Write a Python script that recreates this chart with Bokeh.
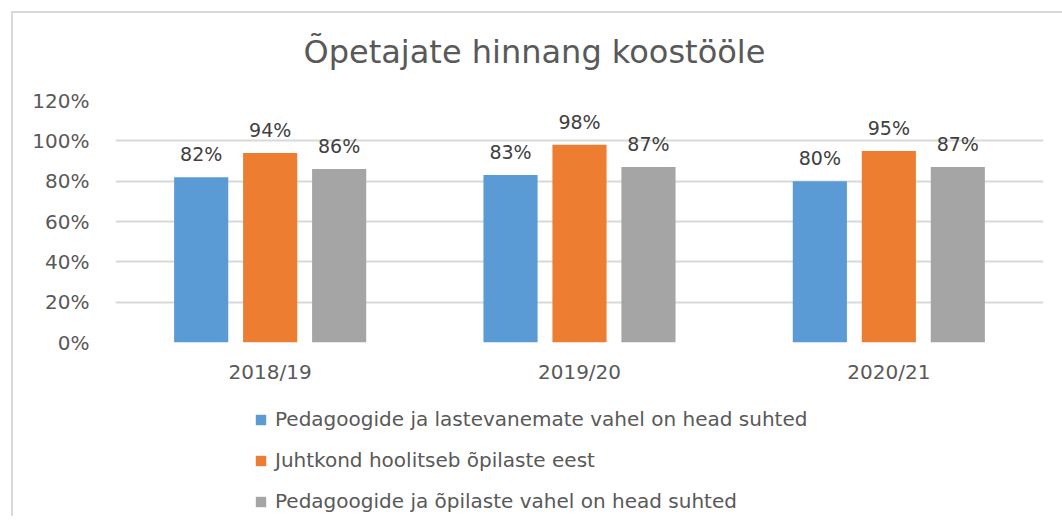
from bokeh.plotting import figure
from bokeh.layouts import column
from bokeh.models import (ColumnDataSource, FactorRange, LabelSet, Legend, LegendItem,
                          PrintfTickFormatter, FixedTicker, Title, Range1d)
from bokeh.core.properties import value
from bokeh.transform import dodge
from bokeh.embed import file_html
from bokeh.resources import INLINE

years = ["2018/19", "2019/20", "2020/21"]
series_names = [
    "Pedagoogide ja lastevanemate vahel on head suhted",
    "Juhtkond hoolitseb õpilaste eest",
    "Pedagoogide ja õpilaste vahel on head suhted",
]
vals_parents = [82, 83, 80]
vals_leadership = [94, 98, 95]
vals_students = [86, 87, 87]
colors = ["#5b9bd5", "#ed7d31", "#a5a5a5"]
y_ticks = [0, 20, 40, 60, 80, 100, 120]

FONT = "DejaVu Sans"
TXT = "#595959"
W = 1062

p = figure(x_range=FactorRange(*years, range_padding=0), y_range=(0, 120),
           width=W, height=390, output_backend="svg", toolbar_location=None,
           min_border_left=115, min_border_right=19, min_border_top=100,
           min_border_bottom=48, outline_line_color=None, border_fill_alpha=0,
           background_fill_alpha=0)
p.title = Title(text="Õpetajate hinnang koostööle", align="left", offset=188,
                text_font=FONT, text_font_size="32px", text_font_style="normal",
                text_color=TXT, standoff=59)

src = ColumnDataSource(dict(year=years, a=vals_parents, b=vals_leadership, c=vals_students,
                            la=[f"{v}%" for v in vals_parents],
                            lb=[f"{v}%" for v in vals_leadership],
                            lc=[f"{v}%" for v in vals_students]))

offsets = [-0.223, 0.0, 0.223]
cols = ["a", "b", "c"]
labs = ["la", "lb", "lc"]
for off, col, lab, color in zip(offsets, cols, labs, colors):
    p.vbar(x=dodge("year", off, range=p.x_range), top=col, width=0.175, source=src,
           fill_color=color, line_color=None)
    p.add_layout(LabelSet(x=dodge("year", off, range=p.x_range), y=col, text=lab, source=src,
                          text_align="center", text_baseline="alphabetic", y_offset=16,
                          text_font=value(FONT), text_font_size="19px", text_color="#404040"))

p.yaxis.ticker = FixedTicker(ticks=y_ticks)
p.yaxis.formatter = PrintfTickFormatter(format="%d%%")
for ax in (p.xaxis[0], p.yaxis[0]):
    ax.axis_line_color = None
    ax.major_tick_line_color = None
    ax.minor_tick_line_color = None
    ax.major_label_text_font = FONT
    ax.major_label_text_color = TXT
p.yaxis.major_label_text_font_size = "20px"
p.xaxis.major_label_text_font_size = "20px"
p.yaxis.major_label_standoff = 20
p.xaxis.major_label_standoff = 11
p.xgrid.grid_line_color = None
p.ygrid.ticker = FixedTicker(ticks=y_ticks)
p.ygrid.grid_line_color = "#d9d9d9"
p.ygrid.grid_line_width = 2

# legend strip below the chart; its proxy bars have zero width so they draw nothing
q = figure(width=W, height=126, output_backend="svg", toolbar_location=None,
           x_axis_type=None, y_axis_type=None, x_range=Range1d(0, 1), y_range=Range1d(0, 1),
           min_border=0, outline_line_color=None, border_fill_alpha=0, background_fill_alpha=0)
q.xgrid.visible = False
q.ygrid.visible = False
leg_renderers = []
for col, color in zip(cols, colors):
    leg_renderers.append(q.vbar(x=0.5, top=col, width=0, source=src,
                                fill_color=color, line_color=None))

legend = Legend(items=[LegendItem(label=n, renderers=[r]) for n, r in zip(series_names, leg_renderers)],
                location=(139, 3), orientation="vertical",
                label_text_font=FONT, label_text_font_size="20px", label_text_color=TXT,
                glyph_width=13, glyph_height=13, label_standoff=8,
                label_height=22, spacing=17,
                padding=0, margin=0, border_line_color=None, background_fill_alpha=0)
q.add_layout(legend, "center")

layout = column(p, q, spacing=0)
layout.styles = {"background": "linear-gradient(#d9d9d9,#d9d9d9) 11px 11px / 2px 100% no-repeat, "
                               "linear-gradient(#d9d9d9,#d9d9d9) 11px 11px / 100% 2px no-repeat"}

open("out.html", "w").write(file_html(layout, INLINE))
